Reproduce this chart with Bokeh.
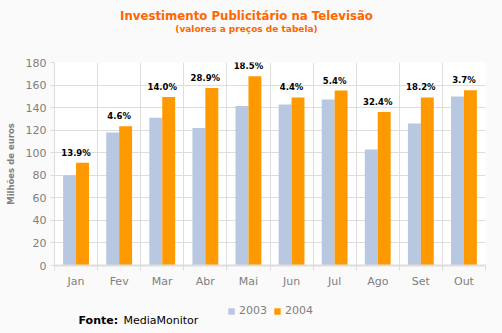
from bokeh.plotting import figure
from bokeh.models import (ColumnDataSource, FixedTicker, Label, LabelSet, Legend,
                          LegendItem, Range1d)
from bokeh.layouts import column
from bokeh.core.properties import value
from bokeh.embed import file_html
from bokeh.resources import INLINE
import numpy as np

months = ["Jan", "Fev", "Mar", "Abr", "Mai", "Jun", "Jul", "Ago", "Set", "Out"]
v2003 = [80, 118, 131, 122, 141.5, 142.7, 147.2, 102.8, 126, 149.8]
v2004 = [91.1, 123.4, 149.3, 157.3, 167.7, 149, 155.1, 136.1, 149, 155.3]
growth = ["13.9%", "4.6%", "14.0%", "28.9%", "18.5%", "4.4%", "5.4%", "32.4%", "18.2%", "3.7%"]
y_ticks = [0, 20, 40, 60, 80, 100, 120, 140, 160, 180]
series = ["2003", "2004"]

C2003 = "#B7C8E0"
C2004 = "#FF9900"
GRID = "#DDDDDD"
GRAY = "#808080"
ORANGE = "#FF6600"
BG = "#FAFAFA"
FONT = "DejaVu Sans"
W = 502
LEFT = 54  # frames in the column are aligned to the chart's left border


def blank(h):
    f = figure(width=W, height=h, output_backend="svg", toolbar_location=None,
               x_range=Range1d(0, 1), y_range=Range1d(0, 1),
               x_axis_location=None, y_axis_location=None,
               min_border=0, min_border_left=0, min_border_right=0,
               min_border_top=0, min_border_bottom=0)
    f.grid.visible = False
    f.outline_line_color = None
    f.background_fill_color = BG
    f.border_fill_color = BG
    return f


# ---------- title block ----------
TOP_H = 54
top = blank(TOP_H)
top.add_layout(Label(x=246 - LEFT, y=TOP_H - 15, x_units="screen", y_units="screen",
                     text="Investimento Publicitário na Televisão",
                     text_align="center", text_baseline="middle",
                     text_font=FONT, text_font_size="11.75px", text_font_style="bold",
                     text_color=ORANGE))
top.add_layout(Label(x=246 - LEFT, y=TOP_H - 28, x_units="screen", y_units="screen",
                     text="(valores a preços de tabela)",
                     text_align="center", text_baseline="middle",
                     text_font=FONT, text_font_size="9px", text_font_style="bold",
                     text_color=ORANGE))

# ---------- chart ----------
n = len(months)
centers = np.arange(n) + 0.5
src = ColumnDataSource(dict(
    x=centers, x03=centers - 0.15, x04=centers + 0.15,
    v03=v2003, v04=v2004, top=np.maximum(v2003, v2004), lab=growth,
))

CH_H = 238
p = figure(width=W, height=CH_H, output_backend="svg", toolbar_location=None,
           x_range=Range1d(0, n), y_range=Range1d(0, 180),
           min_border_left=LEFT, min_border_right=17, min_border_top=8,
           min_border_bottom=27)
p.background_fill_color = "#FFFFFF"
p.border_fill_color = BG
p.outline_line_color = None

p.vbar(x="x03", top="v03", width=0.3, source=src, color=C2003, line_color=None)
p.vbar(x="x04", top="v04", width=0.3, source=src, color=C2004, line_color=None)

p.xgrid.ticker = FixedTicker(ticks=list(range(n + 1)))
p.xgrid.grid_line_color = GRID
p.ygrid.ticker = FixedTicker(ticks=y_ticks)
p.ygrid.grid_line_color = GRID

xa = p.xaxis[0]
xa.ticker = FixedTicker(ticks=list(centers), minor_ticks=list(range(n + 1)))
xa.major_label_overrides = {float(c): m for c, m in zip(centers, months)}
xa.major_tick_line_color = None
xa.minor_tick_line_color = GRID
xa.minor_tick_in = 0
xa.minor_tick_out = 5
xa.axis_line_color = GRID
xa.axis_line_width = 2
xa.major_label_text_font = FONT
xa.major_label_text_font_size = "11px"
xa.major_label_text_color = GRAY
xa.major_label_standoff = 3

ya = p.yaxis[0]
ya.ticker = FixedTicker(ticks=y_ticks)
ya.minor_tick_line_color = None
ya.major_tick_line_color = GRID
ya.major_tick_in = 0
ya.major_tick_out = 4
ya.axis_line_color = GRID
ya.major_label_text_font = FONT
ya.major_label_text_font_size = "11px"
ya.major_label_text_color = GRAY
ya.major_label_standoff = 4
ya.axis_label = "Milhões de euros"
ya.axis_label_text_font = FONT
ya.axis_label_text_font_size = "8.5px"
ya.axis_label_text_font_style = "bold"
ya.axis_label_text_color = GRAY
ya.axis_label_standoff = 7

p.add_layout(LabelSet(x="x", y="top", text="lab", source=src, y_offset=10,
                      text_align="center", text_baseline="middle",
                      text_font=value(FONT), text_font_size=value("8.5px"),
                      text_font_style=value("bold"), text_color="#000000"))

# ---------- legend + source block ----------
BOT_H = 333 - TOP_H - CH_H
bot = blank(BOT_H)
dummy = ColumnDataSource(dict(x=[-5], top=[-5]))  # swatch-only renderers, off-range
s03 = bot.vbar(x="x", top="top", width=0.1, source=dummy, color=C2003, line_color=None)
s04 = bot.vbar(x="x", top="top", width=0.1, source=dummy, color=C2004, line_color=None)
legend = Legend(items=[LegendItem(label=series[0], renderers=[s03]),
                       LegendItem(label=series[1], renderers=[s04])],
                orientation="horizontal", location=(227 - LEFT, BOT_H - 25),
                glyph_width=8, glyph_height=8, label_standoff=4, spacing=6,
                padding=0, margin=0, border_line_color=None,
                background_fill_alpha=0,
                label_text_font=FONT, label_text_font_size="11px",
                label_text_color=GRAY, label_height=12)
bot.add_layout(legend, "center")
bot.add_layout(Label(x=78 - LEFT, y=BOT_H - 28, x_units="screen", y_units="screen",
                     text="Fonte:", text_baseline="middle",
                     text_font=FONT, text_font_size="11px", text_font_style="bold",
                     text_color="#000000"))
bot.add_layout(Label(x=123 - LEFT, y=BOT_H - 28, x_units="screen", y_units="screen",
                     text="MediaMonitor", text_baseline="middle",
                     text_font=FONT, text_font_size="11px",
                     text_color="#000000"))

layout = column(top, p, bot, spacing=0)
layout.styles = {"background-color": BG}
open("out.html", "w").write(file_html(layout, INLINE))
